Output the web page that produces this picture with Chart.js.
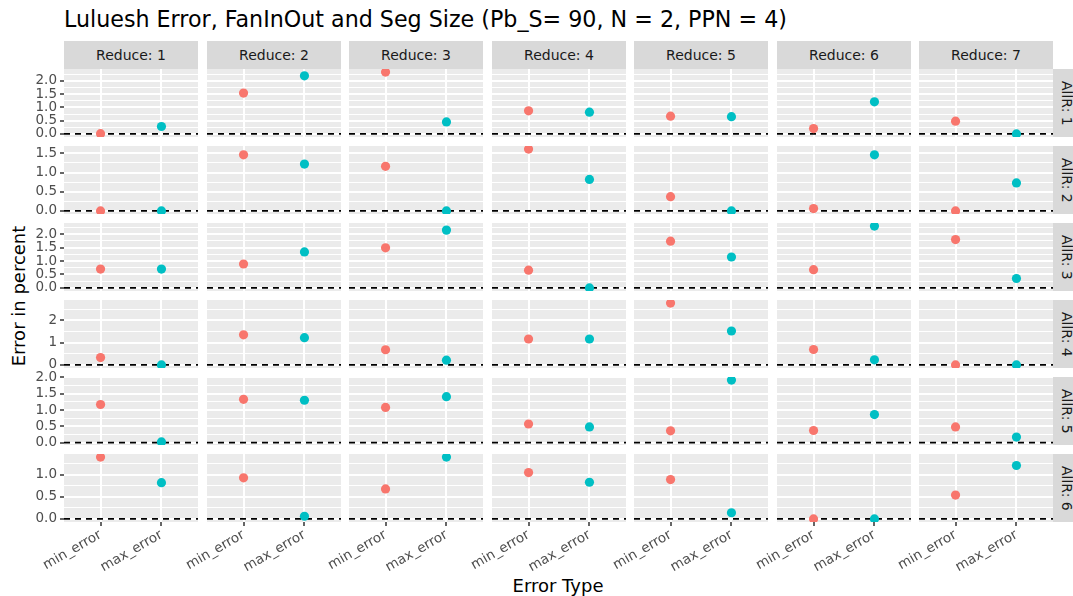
<!DOCTYPE html>
<html>
<head>
<meta charset="utf-8">
<script src="https://cdn.jsdelivr.net/npm/chart.js@4"></script>
<style>
  body { margin: 0; background: #fff; font-family: "DejaVu Sans", sans-serif; }
  #wrap { position: relative; width: 1073px; height: 596px; overflow: hidden; }
  #wrap canvas { position: absolute; }
  .txt { position: absolute; white-space: nowrap; }
  .strip { position: absolute; background: #D9D9D9; color: #1A1A1A; font-size: 14px; text-align: center; }
</style>
</head>
<body>
<div id="wrap"></div>
<script>
const chartTitle = "Luluesh Error, FanInOut and Seg Size (Pb_S= 90, N = 2, PPN = 4)";
const reduceLabels = ["Reduce: 1", "Reduce: 2", "Reduce: 3", "Reduce: 4", "Reduce: 5", "Reduce: 6", "Reduce: 7"];
const allrLabels = ["AllR: 1", "AllR: 2", "AllR: 3", "AllR: 4", "AllR: 5", "AllR: 6"];
const errorTypes = ["min_error", "max_error"];

// one row per AllR, one column per Reduce
const minError = [
  [0.01, 1.54, 2.33, 0.87, 0.67, 0.20, 0.48],
  [0.00, 1.46, 1.16, 1.61, 0.37, 0.06, 0.00],
  [0.70, 0.89, 1.49, 0.66, 1.74, 0.68, 1.80],
  [0.33, 1.35, 0.68, 1.16, 2.77, 0.69, 0.00],
  [1.17, 1.33, 1.08, 0.57, 0.36, 0.37, 0.48],
  [1.40, 0.93, 0.68, 1.05, 0.89, 0.00, 0.54]
];
const maxError = [
  [0.28, 2.19, 0.45, 0.82, 0.65, 1.21, 0.00],
  [0.00, 1.22, 0.00, 0.82, 0.00, 1.46, 0.73],
  [0.70, 1.34, 2.15, 0.00, 1.15, 2.30, 0.35],
  [0.00, 1.22, 0.21, 1.16, 1.52, 0.23, 0.00],
  [0.02, 1.30, 1.41, 0.48, 1.92, 0.86, 0.17],
  [0.82, 0.06, 1.40, 0.83, 0.14, 0.00, 1.21]
];
// y tick labels per row
const yBreaks = [
  [0, 0.5, 1, 1.5, 2],
  [0, 0.5, 1, 1.5],
  [0, 0.5, 1, 1.5, 2],
  [0, 1, 2],
  [0, 0.5, 1, 1.5, 2],
  [0, 0.5, 1]
];

const RED = "#F8766D", TEAL = "#00BFC4";
const colLeft = [64, 207, 349, 492, 634, 777, 919];
const rowTop = [69, 146, 223, 300, 377, 454];
const PW = 134, PH = 68, M = 8;

const wrap = document.getElementById("wrap");

function addText(text, css) {
  const d = document.createElement("div");
  d.className = "txt";
  d.textContent = text;
  Object.assign(d.style, css);
  wrap.appendChild(d);
  return d;
}

// grey panel background
const panelBg = {
  id: "panelBg",
  beforeDraw(chart) {
    const { ctx, chartArea: a } = chart;
    ctx.save();
    ctx.fillStyle = "#EBEBEB";
    ctx.fillRect(a.left, a.top, a.width, a.height);
    ctx.restore();
  }
};

// free y range for each row, with ggplot's 5% expansion
function rowRange(r) {
  const vals = minError[r].concat(maxError[r]);
  const lo = Math.min(...vals), hi = Math.max(...vals);
  const pad = (hi - lo) * 0.05;
  return { min: lo - pad, max: hi + pad };
}

function panelChart(r, c) {
  const leftPad = c === 0 ? 64 : (r === 5 ? 70 : 0);
  const bottomPad = r === 5 ? 72 : 0;
  const padBottom = r === 5 ? 0 : M;
  const canvas = document.createElement("canvas");
  canvas.width = PW + leftPad;
  canvas.height = PH + M + padBottom + bottomPad;
  canvas.style.left = (colLeft[c] - leftPad) + "px";
  canvas.style.top = (rowTop[r] - M) + "px";
  wrap.appendChild(canvas);

  const range = rowRange(r);
  const majors = yBreaks[r];
  const step = majors[1] - majors[0];
  const minors = [majors[0] - step / 2].concat(majors.map(v => v + step / 2))
    .filter(v => v > range.min && v < range.max);
  const allTicks = majors.filter(v => v < range.max).concat(minors).sort((a, b) => a - b);
  const decimals = step < 1 ? 1 : 0;
  const isMajor = v => majors.includes(v);

  new Chart(canvas, {
    type: "scatter",
    data: {
      datasets: [
        {
          type: "line",
          data: [{ x: -0.6, y: 0 }, { x: 1.6, y: 0 }],
          borderColor: "#000",
          borderWidth: 1.7,
          borderDash: [6, 5],
          pointRadius: 0,
          order: 2
        },
        {
          data: [{ x: 0, y: minError[r][c] }, { x: 1, y: maxError[r][c] }],
          backgroundColor: [RED, TEAL],
          borderWidth: 0,
          pointRadius: 4.6,
          order: 1
        }
      ]
    },
    options: {
      responsive: false,
      animation: false,
      layout: { autoPadding: false, padding: { top: M, bottom: padBottom, left: 0, right: 0 } },
      plugins: { legend: { display: false }, tooltip: { enabled: false } },
      scales: {
        x: {
          type: "linear",
          min: -0.6,
          max: 1.6,
          afterBuildTicks: s => { s.ticks = [{ value: 0 }, { value: 1 }]; },
          afterFit: s => { s.height = bottomPad; s.paddingLeft = 0; s.paddingRight = 0; },
          border: { display: false },
          grid: {
            color: "#fff", lineWidth: 2,
            drawTicks: r === 5, tickLength: 4, tickColor: "#333", tickWidth: 1.5
          },
          ticks: {
            display: r === 5,
            autoSkip: false,
            callback: (v, i) => errorTypes[i],
            minRotation: 30, maxRotation: 30,
            color: "#4D4D4D",
            font: { family: "DejaVu Sans", size: 13.5 },
            padding: 1
          }
        },
        y: {
          type: "linear",
          min: range.min,
          max: range.max,
          afterBuildTicks: s => { s.ticks = allTicks.map(v => ({ value: v })); },
          afterFit: s => { s.width = leftPad; s.paddingTop = 0; s.paddingBottom = 0; },
          border: { display: false },
          grid: {
            color: "#fff",
            lineWidth: ctx => (ctx.tick && isMajor(ctx.tick.value) ? 2 : 1),
            drawTicks: c === 0, tickLength: 4, tickWidth: 1.5,
            tickColor: ctx => (ctx.tick && isMajor(ctx.tick.value) ? "#333" : "rgba(0,0,0,0)")
          },
          ticks: {
            display: c === 0,
            autoSkip: false,
            callback: v => (isMajor(v) ? v.toFixed(decimals) : ""),
            color: "#4D4D4D",
            font: { family: "DejaVu Sans", size: 13.5 },
            padding: 3
          }
        }
      }
    },
    plugins: [panelBg]
  });
}

// title and axis titles
addText(chartTitle, { left: "64px", top: "8px", fontSize: "22.2px", lineHeight: "22px", color: "#000" });
addText("Error Type", { left: "358px", width: "400px", textAlign: "center", top: "577px", fontSize: "18px", lineHeight: "18px", color: "#000" });
addText("Error in percent", {
  left: (19 - 200) + "px", top: (296 - 9) + "px", width: "400px", textAlign: "center",
  fontSize: "18px", lineHeight: "18px", color: "#000", transform: "rotate(-90deg)"
});

// facet strips
reduceLabels.forEach((lab, c) => {
  const s = document.createElement("div");
  s.className = "strip";
  s.textContent = lab;
  Object.assign(s.style, { left: colLeft[c] + "px", top: "41px", width: PW + "px", height: "28px", lineHeight: "28px" });
  wrap.appendChild(s);
});
allrLabels.forEach((lab, r) => {
  const s = document.createElement("div");
  s.className = "strip";
  s.textContent = lab;
  Object.assign(s.style, {
    left: "1053px", top: rowTop[r] + "px", width: "27px", height: PH + "px",
    writingMode: "vertical-rl", lineHeight: "27px", textAlign: "center"
  });
  wrap.appendChild(s);
});

for (let r = 0; r < 6; r++) {
  for (let c = 0; c < 7; c++) panelChart(r, c);
}
</script>
</body>
</html>
